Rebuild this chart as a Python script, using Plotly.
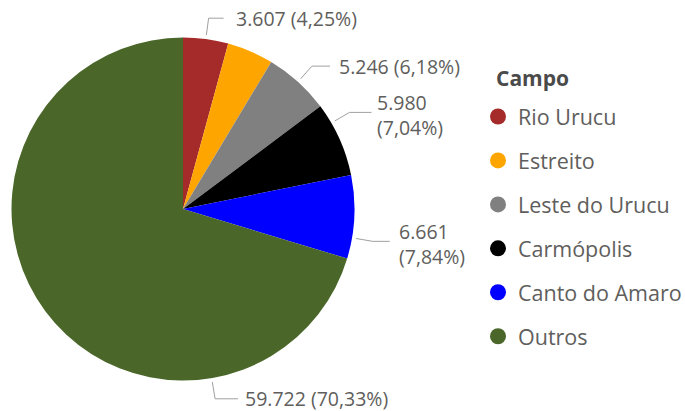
import math
import plotly.graph_objects as go

# ---- data ----
categories = ["Rio Urucu", "Estreito", "Leste do Urucu", "Carmópolis", "Canto do Amaro", "Outros"]
values = [3607, 3695, 5246, 5980, 6661, 59722]
colors = ["#A52A2A", "#FFA500", "#808080", "#000000", "#0000FF", "#4A6729"]
legend_title = "Campo"

# ---- layout settings (label placement) ----
show_label = [True, False, True, True, True, True]
label_shift_deg = [0, 0, 0, -6, 7, -63]
two_line = [False, False, False, True, True, False]
hline_len = [15, 18, 18, 22, 17, 23]
text_gap = [10, 7, 7, 3, 7, 5]

W, H = 685, 411
CX, CY, R = 183, 209, 171.5
FONT = "Segoe UI, Open Sans, sans-serif"
TXT = "#605E5C"

fig = go.Figure()
fig.add_trace(go.Pie(
    labels=categories, values=values, sort=False, direction="clockwise", rotation=0,
    marker=dict(colors=colors, line=dict(width=0)),
    textinfo="none", hoverinfo="label+value+percent", showlegend=False,
    domain=dict(x=[(CX - R) / W, (CX + R) / W], y=[(H - CY - R) / H, (H - CY + R) / H]),
))

# legend entries with circle markers
for i, (cat, col) in enumerate(zip(categories, colors)):
    fig.add_trace(go.Scatter(
        x=[None], y=[None], mode="markers", name=cat, legendgroup=f"g{i}",
        marker=dict(symbol="circle", size=17, color=col), showlegend=True,
    ))

def fmt_int(v):
    return f"{v:,}".replace(",", ".")

total = sum(values)
cum = 0
shapes, annotations = [], []
for i, v in enumerate(values):
    mid = (cum + v / 2) / total * 360
    cum += v
    if not show_label[i]:
        continue
    ang = math.radians(mid + label_shift_deg[i])
    s, c = math.sin(ang), -math.cos(ang)
    x1, y1 = CX + (R + 4) * s, CY + (R + 4) * c
    x2, y2 = CX + (R + 21) * s, CY + (R + 21) * c
    d = 1 if s >= 0 else -1
    x3 = x2 + d * hline_len[i]
    pct = f"{v / total * 100:.2f}".replace(".", ",")
    sep = "<br>" if two_line[i] else " "
    text = f"{fmt_int(v)}{sep}({pct}%)"
    shapes.append(dict(
        type="path", xref="paper", yref="paper",
        path=f"M {x1 / W},{1 - y1 / H} L {x2 / W},{1 - y2 / H} L {x3 / W},{1 - y2 / H}",
        line=dict(color="#A0A0A0", width=1),
    ))
    annotations.append(dict(
        x=(x3 + d * text_gap[i]) / W, y=1 - (y2 + (3 if two_line[i] else 0)) / H,
        xref="paper", yref="paper",
        text=text, showarrow=False, xanchor="left" if d > 0 else "right", yanchor="middle",
        align="left", font=dict(family=FONT, size=19.5, color=TXT),
    ))

# legend title
annotations.append(dict(
    x=494 / W, y=1 - 78 / H, xref="paper", yref="paper", text=f"<b>{legend_title}</b>",
    showarrow=False, xanchor="left", yanchor="middle",
    font=dict(family=FONT, size=21, color="#4A4A4A"),
))

fig.update_layout(
    width=W, height=H, margin=dict(l=0, r=0, t=0, b=0, autoexpand=False),
    paper_bgcolor="white", plot_bgcolor="white",
    xaxis=dict(visible=False), yaxis=dict(visible=False),
    shapes=shapes, annotations=annotations,
    legend=dict(
        x=478 / W, y=1 - 96 / H, xanchor="left", yanchor="top",
        font=dict(family=FONT, size=21.5, color=TXT),
        tracegroupgap=13.0, itemsizing="trace", bgcolor="rgba(0,0,0,0)",
    ),
)

fig.write_html("out.html", config={"displayModeBar": False},
               post_script="document.body.style.margin='0';")
